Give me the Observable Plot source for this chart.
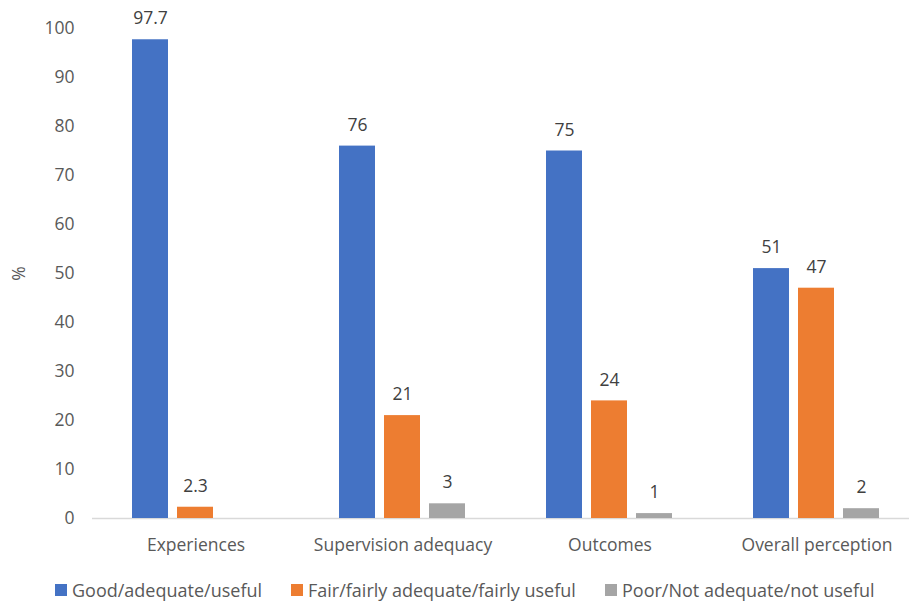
<!DOCTYPE html>
<html>
<head>
<meta charset="utf-8">
<script src="https://cdn.jsdelivr.net/npm/d3@7"></script>
<script src="https://cdn.jsdelivr.net/npm/@observablehq/plot@0.6"></script>
<style>
  html, body { margin: 0; padding: 0; background: white; overflow: hidden; width: 909px; height: 601px; }
  #chart { position: relative; width: 909px; height: 601px; overflow: hidden; }
  #legend { position: absolute; left: 0; top: 578px; width: 909px; height: 24px; font-family: "Open Sans", sans-serif; font-size: 18px; color: #595959; }
  .item { position: absolute; top: 0; display: flex; align-items: center; height: 24px; white-space: nowrap; }
  .sw { width: 12px; height: 12px; margin-right: 5px; }
</style>
</head>
<body>
<div id="chart"></div>
<script>
const categories = ["Experiences", "Supervision adequacy", "Outcomes", "Overall perception"];
const series = ["Good/adequate/useful", "Fair/fairly adequate/fairly useful", "Poor/Not adequate/not useful"];
const good = [97.7, 76, 75, 51];
const fair = [2.3, 21, 24, 47];
const poor = [null, 3, 1, 2];
const colors = ["#4472C4", "#ED7D31", "#A5A5A5"];
const yTicks = [0, 10, 20, 30, 40, 50, 60, 70, 80, 90, 100];
const legendLeft = [55, 291, 605];

const valuesBySeries = [good, fair, poor];
const rows = categories.flatMap((c, i) =>
  series.map((s, j) => ({category: c, series: s, value: valuesBySeries[j][i]}))
).filter(d => d.value != null);

const chart = Plot.plot({
  width: 909,
  height: 570,
  marginLeft: 90,
  marginRight: -12,
  marginTop: 28,
  marginBottom: 52,
  style: {fontFamily: "'Open Sans', sans-serif", fontSize: "17.5px", color: "#595959", background: "white", overflow: "visible"},
  fx: {domain: categories, padding: 0, label: null, axis: "bottom", tickSize: 0, tickPadding: 20},
  x: {domain: series, axis: null, paddingInner: 9 / 46, paddingOuter: 0.853},
  y: {domain: [0, 100], ticks: yTicks, tickSize: 0, tickPadding: 18, label: "%", labelAnchor: "center", labelArrow: "none", labelOffset: 80},
  color: {domain: series, range: colors},
  marks: [
    Plot.ruleY([0], {stroke: "#d9d9d9", strokeWidth: 1.5}),
    Plot.barY(rows, {fx: "category", x: "series", y: "value", fill: "series"}),
    Plot.text(rows, {fx: "category", x: "series", y: "value", text: d => String(d.value), dy: -21, fill: "#404040", fontSize: 17.5})
  ]
});
document.getElementById("chart").appendChild(chart);

const legend = document.createElement("div");
legend.id = "legend";
series.forEach((s, i) => {
  const item = document.createElement("div");
  item.className = "item";
  item.style.left = legendLeft[i] + "px";
  const sw = document.createElement("div");
  sw.className = "sw";
  sw.style.background = colors[i];
  const t = document.createElement("span");
  t.textContent = s;
  item.appendChild(sw);
  item.appendChild(t);
  legend.appendChild(item);
});
document.getElementById("chart").appendChild(legend);
</script>
</body>
</html>
